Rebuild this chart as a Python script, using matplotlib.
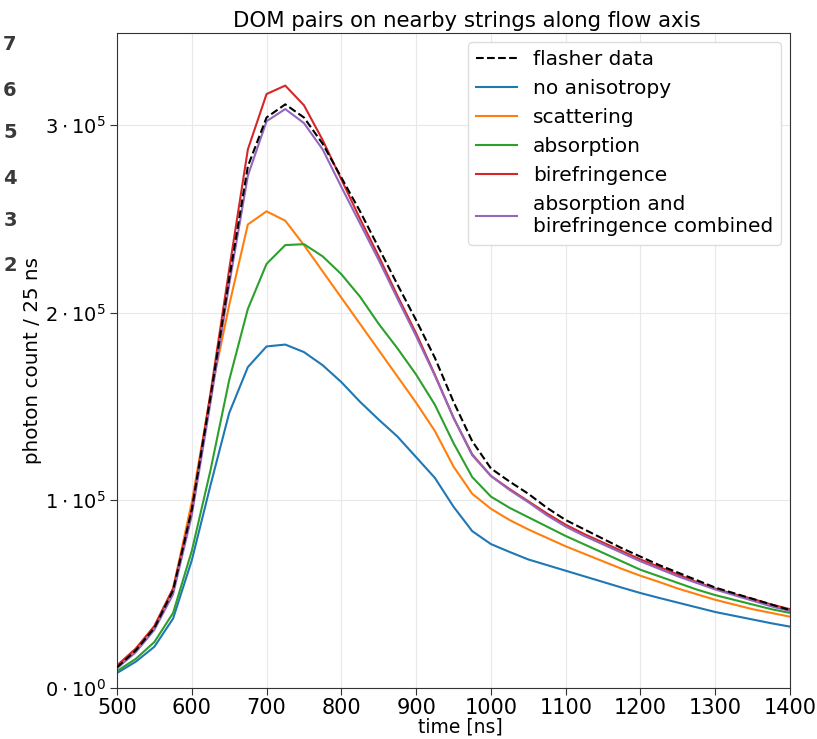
import matplotlib
matplotlib.use("Agg")
import matplotlib.pyplot as plt

# time bins [ns]
time = [500, 525, 550, 575, 600, 625, 650, 675, 700, 725, 750, 775, 800, 825,
        850, 875, 900, 925, 950, 975, 1000, 1025, 1050, 1075, 1100, 1125, 1150,
        1175, 1200, 1225, 1250, 1275, 1300, 1325, 1350, 1375, 1400]

# photon counts in units of 1e5
flasher = [0.11, 0.20, 0.32, 0.52, 0.95, 1.55, 2.18, 2.78, 3.04, 3.11, 3.04, 2.90,
           2.72, 2.54, 2.345, 2.15, 1.96, 1.76, 1.525, 1.315, 1.17, 1.10, 1.035,
           0.96, 0.895, 0.845, 0.795, 0.745, 0.70, 0.655, 0.615, 0.575, 0.535,
           0.505, 0.475, 0.445, 0.415]
no_aniso = [0.08, 0.14, 0.22, 0.37, 0.68, 1.08, 1.465, 1.71, 1.82, 1.83, 1.79, 1.72,
            1.63, 1.525, 1.43, 1.34, 1.23, 1.12, 0.966, 0.836, 0.767, 0.725, 0.685,
            0.655, 0.625, 0.595, 0.565, 0.535, 0.506, 0.48, 0.455, 0.43, 0.405,
            0.385, 0.365, 0.345, 0.327]
scattering = [0.115, 0.20, 0.33, 0.53, 0.99, 1.56, 2.04, 2.47, 2.54, 2.49, 2.36, 2.22,
              2.08, 1.94, 1.80, 1.66, 1.52, 1.37, 1.18, 1.035, 0.955, 0.895, 0.845,
              0.80, 0.755, 0.715, 0.675, 0.635, 0.598, 0.565, 0.53, 0.50, 0.47,
              0.445, 0.42, 0.40, 0.38]
absorption = [0.09, 0.155, 0.245, 0.40, 0.73, 1.16, 1.64, 2.02, 2.26, 2.36, 2.365, 2.30,
              2.205, 2.085, 1.94, 1.81, 1.67, 1.51, 1.305, 1.124, 1.02, 0.96, 0.91,
              0.86, 0.81, 0.765, 0.72, 0.675, 0.63, 0.595, 0.56, 0.525, 0.495,
              0.47, 0.445, 0.42, 0.40]
birefringence = [0.12, 0.21, 0.33, 0.53, 0.95, 1.57, 2.23, 2.87, 3.165, 3.21, 3.105, 2.92,
                 2.71, 2.50, 2.30, 2.09, 1.89, 1.67, 1.44, 1.245, 1.13, 1.06, 0.995,
                 0.93, 0.87, 0.82, 0.775, 0.73, 0.685, 0.645, 0.605, 0.565, 0.53,
                 0.50, 0.475, 0.445, 0.42]
combined = [0.105, 0.19, 0.31, 0.50, 0.92, 1.52, 2.15, 2.73, 3.02, 3.085, 3.01, 2.87,
            2.67, 2.475, 2.28, 2.075, 1.875, 1.665, 1.44, 1.24, 1.13, 1.055, 0.99,
            0.92, 0.86, 0.81, 0.765, 0.72, 0.675, 0.635, 0.595, 0.56, 0.525,
            0.495, 0.465, 0.435, 0.41]

ytick_vals = [0, 1e5, 2e5, 3e5]
ytick_labels = [r"$0 \cdot 10^{0}$", r"$1 \cdot 10^{5}$", r"$2 \cdot 10^{5}$", r"$3 \cdot 10^{5}$"]
xtick_vals = [500, 600, 700, 800, 900, 1000, 1100, 1200, 1300, 1400]

fig = plt.figure(figsize=(8.17, 7.39), dpi=100)
ax = fig.add_axes([0.1432, 0.069, 0.8238, 0.8863])

def scale(v):
    return [x * 1e5 for x in v]

ax.plot(time, scale(flasher), "k--", lw=1.5, label="flasher data", zorder=5)
ax.plot(time, scale(no_aniso), color="C0", lw=1.5, label="no anisotropy")
ax.plot(time, scale(scattering), color="C1", lw=1.5, label="scattering")
ax.plot(time, scale(absorption), color="C2", lw=1.5, label="absorption")
ax.plot(time, scale(birefringence), color="C3", lw=1.5, label="birefringence")
ax.plot(time, scale(combined), color="C4", lw=1.5, label="absorption and\nbirefringence combined")

ax.set_xlim(500, 1400)
ax.set_ylim(0, 3.49e5)
ax.set_xticks(xtick_vals)
ax.set_yticks(ytick_vals)
ax.set_yticklabels(ytick_labels)
ax.tick_params(axis="x", labelsize=15, pad=2)
ax.tick_params(axis="y", labelsize=14, pad=3)
ax.tick_params(direction="out", length=5, color="#333333")
ax.grid(True, color="#e8e8e8", lw=0.8)
ax.set_axisbelow(True)
for s in ax.spines.values():
    s.set_color("#333333")

ax.set_xlabel("time [ns]", fontsize=13.5, labelpad=0)
ax.xaxis.set_label_coords(0.51, -0.045)
ax.set_ylabel("photon count / 25 ns", fontsize=14.3, labelpad=2)
ax.set_title("DOM pairs on nearby strings along flow axis", fontsize=15.3, pad=4, x=0.52)

ax.legend(loc="upper right", fontsize=14.5, framealpha=1, edgecolor="#dddddd",
          borderaxespad=0.45)

# stray tick labels from a neighbouring panel
for d, yp in zip(["7", "6", "5", "4", "3", "2"], [45, 90, 133, 178, 220, 265]):
    fig.text(10 / 817, 1 - yp / 739, d, fontsize=14, fontweight="bold",
             color="#3a3a3a", ha="center", va="center")

fig.savefig("out.png", dpi=100)
